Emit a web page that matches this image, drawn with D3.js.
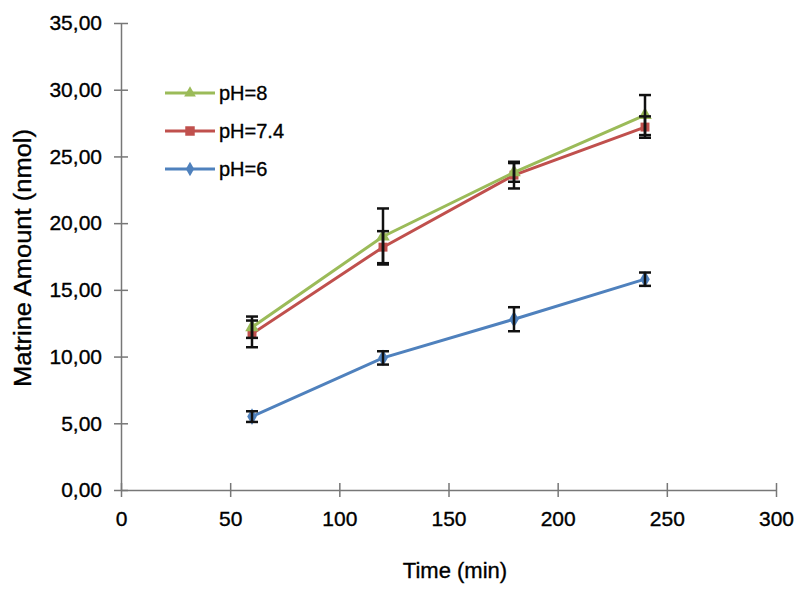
<!DOCTYPE html>
<html>
<head>
<meta charset="utf-8">
<script src="https://cdn.jsdelivr.net/npm/d3@7"></script>
<style>
  body { margin: 0; background: #fff; }
  text { font-family: "Liberation Sans", Arial, sans-serif; fill: #000; stroke: #000; stroke-width: 0.35px; }
</style>
</head>
<body>
<div id="chart"></div>
<script>
const width = 800;
const height = 589;

// Data
const times = [60, 120, 180, 240];
const seriesNames = ['pH=8', 'pH=7.4', 'pH=6'];
const ph8 = [12.2, 19.0, 23.8, 28.1];
const ph8Err = [0.8, 2.1, 0.7, 1.5];
const ph74 = [11.7, 18.2, 23.6, 27.2];
const ph74Err = [1.0, 1.2, 1.0, 0.8];
const ph6 = [5.5, 9.9, 12.8, 15.8];
const ph6Err = [0.4, 0.5, 0.9, 0.5];
const xTicks = [0, 50, 100, 150, 200, 250, 300];
const yTicks = [0, 5, 10, 15, 20, 25, 30, 35];

const colors = ['#9BBB59', '#C0504D', '#4F81BD'];
const symbols = [d3.symbolTriangle, d3.symbolSquare, d3.symbolDiamond];

const series = [
  {name: seriesNames[0], values: ph8, err: ph8Err},
  {name: seriesNames[1], values: ph74, err: ph74Err},
  {name: seriesNames[2], values: ph6, err: ph6Err}
];

const svg = d3.select('#chart')
  .append('svg')
  .attr('width', width)
  .attr('height', height);

// Scales
const xscale = d3.scaleLinear().domain([0, 300]).range([121, 776]);
const yscale = d3.scaleLinear().domain([0, 35]).range([490, 23]);

// Comma decimal formatter: 35 --> 35,00
const locale = d3.formatLocale({decimal: ',', thousands: '.', grouping: [3], currency: ['', '']});
const yfmt = locale.format('.2f');

// Axes
const xaxis = d3.axisBottom(xscale).tickValues(xTicks).tickSize(0).tickPadding(21);
const yaxis = d3.axisLeft(yscale).tickValues(yTicks).tickFormat(yfmt).tickSize(0).tickPadding(19);

const gx = svg.append('g')
  .attr('transform', 'translate(0,' + yscale(0) + ')')
  .call(xaxis);
const gy = svg.append('g')
  .attr('transform', 'translate(' + xscale(0) + ',0)')
  .call(yaxis);

[gx, gy].forEach(g => {
  g.select('.domain').attr('stroke', '#777').attr('stroke-width', 1.5);
  g.selectAll('text').attr('font-size', 21).attr('fill', '#000');
});

// Crossing tick marks
gx.selectAll('.tick').append('line')
  .attr('y1', -7).attr('y2', 7)
  .attr('stroke', '#777').attr('stroke-width', 1.5);
gy.selectAll('.tick').append('line')
  .attr('x1', -7).attr('x2', 7)
  .attr('stroke', '#777').attr('stroke-width', 1.5);

// Axis titles
svg.append('text')
  .attr('x', 455)
  .attr('y', 578)
  .attr('text-anchor', 'middle')
  .attr('font-size', 22)
  .text('Time (min)');

svg.append('text')
  .attr('transform', 'translate(31,258) rotate(-90)')
  .attr('text-anchor', 'middle')
  .attr('font-size', 23)
  .attr('textLength', 258)
  .attr('lengthAdjust', 'spacingAndGlyphs')
  .text('Matrine Amount (nmol)');

// Lines
const line = d3.line()
  .x((d, i) => xscale(times[i]))
  .y(d => yscale(d));

// Draw bottom series first so pH=8 sits on top
series.slice().reverse().forEach(s => {
  const k = seriesNames.indexOf(s.name);

  svg.append('path')
    .datum(s.values)
    .attr('d', line)
    .attr('fill', 'none')
    .attr('stroke', colors[k])
    .attr('stroke-width', 3);

  svg.selectAll(null)
    .data(s.values)
    .enter()
    .append('path')
    .attr('d', d3.symbol().type(symbols[k]).size(80))
    .attr('transform', (d, i) => 'translate(' + xscale(times[i]) + ',' + yscale(d) + ')')
    .attr('fill', colors[k]);
});

// Error bars
series.forEach(s => {
  const g = svg.append('g').attr('stroke', '#111').attr('stroke-width', 2.5);
  s.values.forEach((v, i) => {
    const x = xscale(times[i]);
    const y0 = yscale(v - s.err[i]);
    const y1 = yscale(v + s.err[i]);
    g.append('line').attr('x1', x).attr('x2', x).attr('y1', y0).attr('y2', y1);
    g.append('line').attr('x1', x - 6).attr('x2', x + 6).attr('y1', y0).attr('y2', y0);
    g.append('line').attr('x1', x - 6).attr('x2', x + 6).attr('y1', y1).attr('y2', y1);
  });
});

// Legend
const legendY = [93, 131, 169];
const legend = svg.append('g');
seriesNames.forEach((name, i) => {
  const row = legend.append('g').attr('transform', 'translate(0,' + legendY[i] + ')');
  row.append('line')
    .attr('x1', 165).attr('x2', 215)
    .attr('stroke', colors[i]).attr('stroke-width', 3);
  row.append('path')
    .attr('d', d3.symbol().type(symbols[i]).size(i === 1 ? 90 : 60))
    .attr('transform', 'translate(190,0)')
    .attr('fill', colors[i]);
  row.append('text')
    .attr('x', 219)
    .attr('y', 7)
    .attr('font-size', 20)
    .text(name);
});
</script>
</body>
</html>
